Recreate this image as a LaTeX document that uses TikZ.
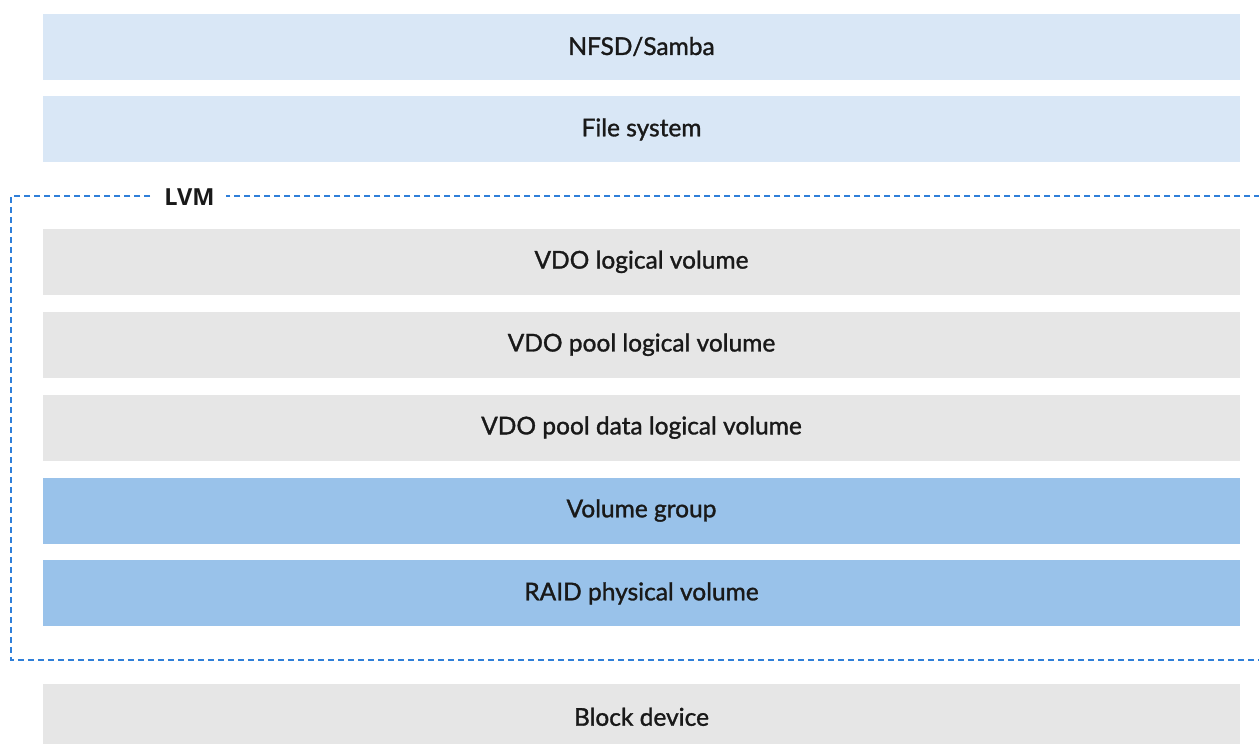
\documentclass[tikz,border=0pt]{standalone}
\usepackage{fontspec}
\setmainfont{Lato}
\newfontfamily\medfont{Lato}[FakeBold=1.3]
\newfontfamily\lvmfont{Open Sans}
\usetikzlibrary{positioning}

\definecolor{paleblue}{HTML}{D9E7F6}
\definecolor{midblue}{HTML}{99C2EA}
\definecolor{lightgrey}{HTML}{E6E6E6}
\definecolor{dashblue}{HTML}{2F7FD9}

\begin{document}
\begin{tikzpicture}[x=1pt, y=-1pt,
    layer/.style={minimum width=1197pt, minimum height=66pt, inner sep=0pt,
      font=\medfont\fontsize{24.5}{28}\selectfont, text=black!90},
    upper/.style={layer, fill=paleblue},
    lvmlayer/.style={layer, fill=lightgrey},
    pvlayer/.style={layer, fill=midblue},
    node distance=16.5pt]

  \useasboundingbox (0,0) rectangle (1259,744);

  % Top of the stack
  \node[upper] (nfsd) at (641.5,46.5) {NFSD/Samba};
  \node[upper, below=of nfsd] (fs) {File system};

  % Layers inside LVM
  \node[lvmlayer, below=66pt of fs] (vdolv) {VDO logical volume};
  \node[lvmlayer, below=of vdolv] (pool) {VDO pool logical volume};
  \node[lvmlayer, below=of pool] (pooldata) {VDO pool data logical volume};
  \node[pvlayer, below=of pooldata] (vg) {Volume group};
  \node[pvlayer, below=of vg] (raid) {RAID physical volume};

  % Bottom
  \node[lvmlayer, below=57pt of raid] (block) {Block device};

  % LVM frame
  \coordinate (lvmtr) at (1270,196);
  \coordinate (lvmtl) at (11,196);
  \coordinate (lvmbl) at (11,660);
  \coordinate (lvmbr) at (1270,660);
  \draw[dashblue, line width=1.6pt, dash pattern=on 6pt off 4pt]
    (lvmtr) -- (lvmtl) -- (lvmbl) -- (lvmbr);
  \node[fill=white, inner xsep=11pt, text=black!90,
    font=\lvmfont\bfseries\fontsize{23.5}{27}\selectfont]
    (lvm) at (189.5,197.5) {LVM};

\end{tikzpicture}
\end{document}
